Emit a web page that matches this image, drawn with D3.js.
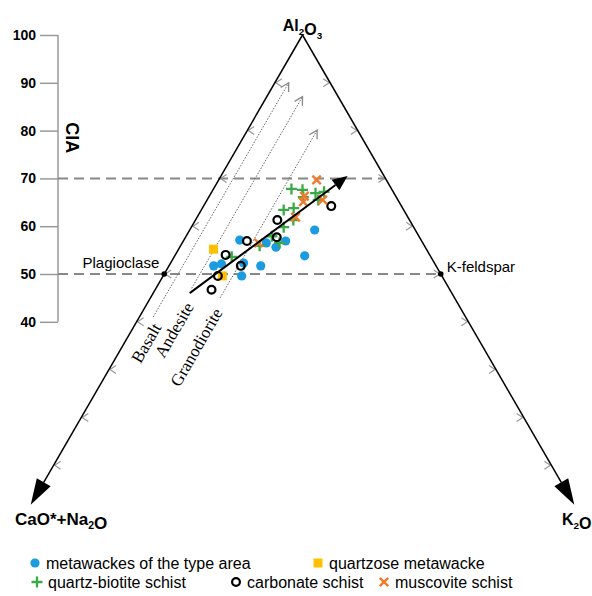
<!DOCTYPE html>
<html>
<head>
<meta charset="utf-8">
<script src="https://cdn.jsdelivr.net/npm/d3@7"></script>
<style>
  body { margin: 0; background: #fff; }
  text { font-family: "Liberation Sans", Arial, sans-serif; }
</style>
</head>
<body>
<svg id="chart"></svg>
<script>
// Composiciones: [Al2O3, CaO*+Na2O, K2O] (mol %)
var typeArea = [[59.2,18.2,22.6],[53.8,22.7,23.5],[57.1,32.8,10.1],[56.9,24.6,18.5],[55.6,27.0,17.4],
  [56.5,28.3,15.2],[51.7,31.7,16.6],[52.3,34.5,13.2],[49.6,36.2,14.2],[51.7,40.2,8.1],[52.1,38.6,9.3]];
var quartzose = [[55.2,38.5,6.3],[49.6,39.7,10.7]];
var quartzBiotite = [[53.6,36.0,10.4],[55.9,29.8,14.3],[57.9,26.6,15.5],[56.5,25.9,17.6],[59.8,23.5,16.7],
  [61.3,21.0,17.7],[63.4,21.7,14.9],[63.8,19.7,16.5],[67.8,18.1,14.1],[67.6,16.2,16.2],[66.1,16.8,17.1],
  [66.9,14.2,18.9],[67.2,12.5,20.3],[65.5,14.4,20.1]];
var carbonate = [[46.7,43.1,10.2],[49.6,40.5,9.9],[54.0,36.9,9.1],[51.7,35.3,13.0],[56.9,31.6,11.5],
  [61.3,23.9,14.8],[57.7,25.8,16.5],[64.2,12.7,23.1]];
var muscovite = [[69.7,12.6,17.7],[66.3,16.5,17.2],[65.1,17.3,17.6],[65.5,13.6,20.9],[61.9,20.3,17.8],[56.5,29.7,13.8]];

// Tendencia principal (inicio, fin)
var trendArrow = [[46.0,47.4,6.6],[70.5,6.6,22.9]];

// Tendencias de meteorizacion: K2O constante, Al2O3 desde/hasta, posicion de la etiqueta
var weathering = [
  { name: "Basalt", k: 2.5, from: 41, to: 90, labelA: 35.6, labelK: 3.9 },
  { name: "Andesite", k: 6.45, from: 47, to: 87.1, labelA: 38.3, labelK: 7.6 },
  { name: "Granodiorite", k: 12.6, from: 45, to: 80.1, labelA: 34.7, labelK: 13.4 }
];

var ciaTicks = [100, 90, 80, 70, 60, 50, 40];
var ciaLines = [70, 50];
var sideTicks = [10, 20, 30, 40, 50, 60, 70, 80, 90];
var cornerEnd = 1.7; // Al2O3 donde terminan las flechas de los lados

var legendRow1 = [
  { key: "typeArea", label: "metawackes of the type area" },
  { key: "quartzose", label: "quartzose metawacke" }
];
var legendRow2 = [
  { key: "quartzBiotite", label: "quartz-biotite schist" },
  { key: "carbonate", label: "carbonate schist" },
  { key: "muscovite", label: "muscovite schist" }
];

var W = 592, H = 596;
var svg = d3.select("#chart").attr("width", W).attr("height", H);

// Escalas: vertical = Al2O3 (CIA), horizontal = K2O - (CaO*+Na2O)
var yScale = d3.scaleLinear().domain([0, 100]).range([513, 35]);
var xScale = d3.scaleLinear().domain([-100, 100]).range([26, 579]);

function tern(p) {
  return [xScale(p[2] - p[1]), yScale(p[0])];
}

function headPoints(tip, from, len, half) {
  var dx = tip[0] - from[0], dy = tip[1] - from[1];
  var d = Math.sqrt(dx * dx + dy * dy);
  var ux = dx / d, uy = dy / d;
  var bx = tip[0] - ux * len, by = tip[1] - uy * len;
  return [[bx - uy * half, by + ux * half], tip, [bx + uy * half, by - ux * half]];
}

var line = d3.line();

// Eje CIA
var ciaX = 58;
var axisG = svg.append("g").attr("transform", "translate(" + ciaX + ",0)")
  .call(d3.axisLeft(yScale).tickValues(ciaTicks).tickSize(18).tickPadding(4).tickSizeOuter(0));
axisG.select(".domain").remove();
axisG.append("line")
  .attr("y1", yScale(40)).attr("y2", yScale(100))
  .attr("stroke", "#999").attr("stroke-width", 1.5);
axisG.selectAll(".tick line").attr("stroke", "#999").attr("stroke-width", 1.5);
axisG.selectAll(".tick text")
  .attr("fill", "#000")
  .style("font-family", "'Liberation Sans', Arial, sans-serif")
  .style("font-size", "14px")
  .style("font-weight", "bold");

svg.append("text")
  .attr("transform", "translate(66," + yScale(78.5) + ") rotate(90)")
  .attr("text-anchor", "middle")
  .style("font-size", "18px")
  .style("font-weight", "bold")
  .text("CIA");

// Lineas discontinuas CIA 70 y 50
ciaLines.forEach(function(v) {
  var end = tern([v, 0, 100 - v]);
  svg.append("line")
    .attr("x1", ciaX).attr("x2", end[0])
    .attr("y1", yScale(v)).attr("y2", yScale(v))
    .attr("stroke", "#888").attr("stroke-width", 2)
    .attr("stroke-dasharray", "10,6");
});

// Marcas de los lados
sideTicks.forEach(function(a) {
  var l = tern([a, 100 - a, 0]);
  svg.append("path")
    .attr("d", line([[l[0] + 7, l[1] - 4], [l[0] + 1, l[1]], [l[0] + 7, l[1] + 4]]))
    .attr("fill", "none").attr("stroke", "#999").attr("stroke-width", 1.2);
  var r = tern([a, 0, 100 - a]);
  svg.append("path")
    .attr("d", line([[r[0] - 7, r[1] - 4], [r[0] - 1, r[1]], [r[0] - 7, r[1] + 4]]))
    .attr("fill", "none").attr("stroke", "#999").attr("stroke-width", 1.2);
});

// Lados del triangulo con flechas
var apex = tern([100, 0, 0]);
[[cornerEnd, 100 - cornerEnd, 0], [cornerEnd, 0, 100 - cornerEnd]].forEach(function(c) {
  var tip = tern(c);
  var hp = headPoints(tip, apex, 26, 8);
  var base = [(hp[0][0] + hp[2][0]) / 2, (hp[0][1] + hp[2][1]) / 2];
  svg.append("path").attr("d", line([apex, base]))
    .attr("stroke", "#000").attr("stroke-width", 1.5).attr("fill", "none");
  svg.append("path").attr("d", line(hp) + "Z").attr("fill", "#000");
});

// Tendencias de meteorizacion
weathering.forEach(function(t) {
  var p0 = tern([t.from, 100 - t.from - t.k, t.k]);
  var p1 = tern([t.to, 100 - t.to - t.k, t.k]);
  svg.append("path").attr("d", line([p0, p1]))
    .attr("stroke", "#666").attr("stroke-width", 1)
    .attr("stroke-dasharray", "1.5,1.5").attr("fill", "none");
  svg.append("path").attr("d", line(headPoints(p1, p0, 8, 4.5)))
    .attr("stroke", "#888").attr("stroke-width", 1.3).attr("fill", "none");
  var lp = tern([t.labelA, 100 - t.labelA - t.labelK, t.labelK]);
  svg.append("text")
    .attr("transform", "translate(" + lp[0] + "," + lp[1] + ") rotate(-60)")
    .attr("text-anchor", "middle")
    .attr("dy", "0.35em")
    .style("font-family", "'Liberation Serif', 'Times New Roman', serif")
    .style("font-size", "17px")
    .text(t.name);
});

// Plagioclasa y feldespato K
var plag = tern([50, 50, 0]), kfs = tern([50, 0, 50]);
[plag, kfs].forEach(function(p) {
  svg.append("circle").attr("cx", p[0]).attr("cy", p[1]).attr("r", 2.8).attr("fill", "#000");
});
svg.append("text").attr("x", plag[0] - 5).attr("y", plag[1] - 6)
  .attr("text-anchor", "end").style("font-size", "15px").text("Plagioclase");
svg.append("text").attr("x", kfs[0] + 6).attr("y", kfs[1] - 2)
  .style("font-size", "15px").text("K-feldspar");

// Simbolos
var styles = {
  typeArea: function(g) { g.append("circle").attr("r", 4.6).attr("fill", "#1b9be0"); },
  quartzose: function(g) { g.append("rect").attr("x", -4.5).attr("y", -4.5).attr("width", 9).attr("height", 9).attr("fill", "#ffc000"); },
  quartzBiotite: function(g) { g.append("path").attr("d", "M-5.5,0H5.5M0,-5.5V5.5").attr("stroke", "#3aaa48").attr("stroke-width", 2.3); },
  carbonate: function(g) { g.append("circle").attr("r", 3.9).attr("fill", "none").attr("stroke", "#000").attr("stroke-width", 2.2); },
  muscovite: function(g) { g.append("path").attr("d", "M-4.2,-4.2L4.2,4.2M-4.2,4.2L4.2,-4.2").attr("stroke", "#f07b2c").attr("stroke-width", 2.4); }
};
var series = [
  { key: "typeArea", data: typeArea },
  { key: "quartzose", data: quartzose },
  { key: "quartzBiotite", data: quartzBiotite },
  { key: "carbonate", data: carbonate },
  { key: "muscovite", data: muscovite }
];
series.forEach(function(s) {
  svg.append("g").selectAll("g")
    .data(s.data)
    .enter().append("g")
    .attr("transform", function(d) { var p = tern(d); return "translate(" + p[0] + "," + p[1] + ")"; })
    .each(function() { styles[s.key](d3.select(this)); });
});

// Flecha de tendencia negra
var a0 = tern(trendArrow[0]), a1 = tern(trendArrow[1]);
var ah = headPoints(a1, a0, 15, 6.5);
svg.append("path")
  .attr("d", line([a0, [(ah[0][0] + ah[2][0]) / 2, (ah[0][1] + ah[2][1]) / 2]]))
  .attr("stroke", "#000").attr("stroke-width", 2).attr("fill", "none");
svg.append("path").attr("d", line(ah) + "Z").attr("fill", "#000");

// Etiquetas de los vertices
function chemLabel(parts, x, y, anchor, size) {
  var t = svg.append("text").attr("x", x).attr("y", y).attr("text-anchor", anchor)
    .style("font-size", size + "px").style("font-weight", "bold");
  parts.forEach(function(p) {
    if (p.sub) {
      t.append("tspan").attr("dy", 4).style("font-size", (size * 0.62) + "px").text(p.s);
      t.append("tspan").attr("dy", -4).text("");
    } else {
      t.append("tspan").text(p.s);
    }
  });
}
chemLabel([{ s: "Al" }, { s: "2", sub: true }, { s: "O" }, { s: "3", sub: true }], apex[0], 31, "middle", 16);
chemLabel([{ s: "CaO*+Na" }, { s: "2", sub: true }, { s: "O" }], 15, 525, "start", 17);
chemLabel([{ s: "K" }, { s: "2", sub: true }, { s: "O" }], 562, 525, "start", 16);

// Leyenda
function legendRow(items, xs, y) {
  items.forEach(function(it, i) {
    var g = svg.append("g").attr("transform", "translate(" + xs[i] + "," + y + ")");
    styles[it.key](g);
    svg.append("text").attr("x", xs[i] + 11).attr("y", y + 6)
      .style("font-size", "16px").text(it.label);
  });
}
legendRow(legendRow1, [35, 318], 563);
legendRow(legendRow2, [37, 236, 384], 582);
</script>
</body>
</html>
